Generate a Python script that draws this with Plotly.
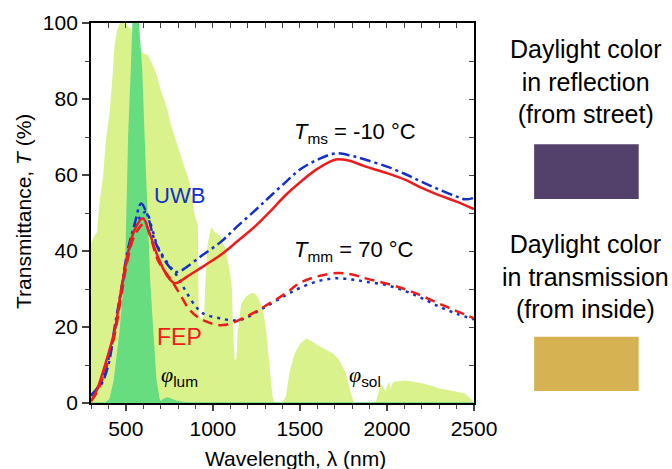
import plotly.graph_objects as go

# ---------------- data ----------------
sol_wl = [300, 310, 320, 335, 350, 370, 385, 400, 410, 425, 435, 450, 465, 480, 500, 515, 530, 550, 570, 588,
          600, 626, 645, 665, 685, 703, 720, 741, 760, 788, 810, 836, 850, 865, 880, 893, 905, 914, 918, 935,
          950, 955, 970, 991, 1010, 1040, 1070, 1096, 1110, 1115, 1125, 1136, 1141, 1150, 1162, 1190, 1227,
          1250, 1267, 1290, 1306, 1325, 1343, 1355, 1400, 1420, 1440, 1470, 1500, 1536, 1570, 1610, 1650,
          1690, 1725, 1764, 1792, 1811, 1935, 1954, 1965, 1973, 1985, 1992, 2005, 2011, 2021, 2030, 2040,
          2070, 2107, 2150, 2202, 2250, 2298, 2350, 2393, 2450, 2488, 2500]
sol_val = [42, 43, 44, 45, 53, 60, 69, 74, 78, 87, 94, 98, 100, 100, 100, 99, 98.5, 95, 93, 92.4,
           92, 91.6, 90, 88, 85, 82, 80, 76.7, 73, 68.8, 66, 62.2, 60.5, 58, 54, 50, 48, 47, 23, 22,
           23, 30, 42, 46.4, 45, 44, 41, 35, 30, 20, 11, 12, 18, 22, 26, 28, 29,
           28.5, 27, 24, 19, 10, 1.5, 0, 0, 2, 8, 13, 15.5, 17, 16.2, 15, 14,
           13, 11.3, 7.9, 2.6, 0, 0, 3, 5, 4.7, 3.5, 3, 5, 5.6, 3.9, 5, 5.6,
           5.8, 5.9, 5.6, 5.2, 4.6, 3.9, 3.4, 3, 2.5, 0.8, 0]

lum_wl = [300, 385, 410, 435, 468, 493, 504, 510, 518, 533, 542, 571, 590, 603, 619, 628, 636, 655, 672,
          690, 700, 720, 740, 770, 800, 850, 2500]
lum_val = [0, 0, 1, 6, 19, 32, 43, 53, 71, 88, 100, 100, 88, 71, 53, 43, 32, 18, 6,
           1, 0.3, 1, 1.3, 0.8, 0.3, 0, 0]

fep_cold_wl = [300, 330, 378, 436, 473, 512, 550, 598, 636, 684, 741, 780, 809, 850, 943, 1046, 1134, 1250,
               1325, 1420, 1496, 1600, 1706, 1780, 1878, 2000, 2107, 2200, 2298, 2400, 2500]
fep_cold = [0.5, 3, 9.6, 19.2, 29.7, 39.4, 45.5, 48.6, 44.7, 38.5, 33.2, 31.5, 31.9, 33.2, 35.9, 39, 42.3, 46.8,
            50.2, 54.8, 57.9, 61.6, 64.1, 63.8, 62.2, 60.5, 58.7, 56.6, 54.7, 53, 51]

uwb_cold_wl = [300, 330, 360, 400, 436, 474, 510, 550, 588, 620, 665, 722, 779, 809, 850, 943, 1046, 1134,
               1250, 1325, 1420, 1496, 1600, 1706, 1800, 1878, 2000, 2107, 2200, 2298, 2400, 2450, 2500]
uwb_cold = [2, 3.5, 5, 10, 20, 30, 40, 47, 52.5, 50, 42.9, 37.6, 34.6, 34.6, 35.8, 39, 42.4, 46.2,
            51, 54.2, 58.2, 61.3, 64, 65.7, 65, 64, 62.2, 60.2, 58.2, 56.2, 54.3, 53.6, 54]

fep_hot_wl = [300, 330, 378, 436, 473, 512, 550, 607, 640, 684, 760, 808, 867, 943, 1057, 1191, 1325, 1420,
              1496, 1600, 1720, 1800, 1878, 2000, 2107, 2200, 2298, 2400, 2500]
fep_hot = [0.5, 2.5, 8, 18, 28, 38, 44, 47.3, 44, 37.6, 32.4, 28.9, 24.5, 21.8, 20.5, 22.7, 26.2, 28.9,
           31.5, 33.3, 34.2, 33.8, 32.8, 31.4, 29.9, 28.2, 26.2, 24.2, 22.3]

uwb_hot_wl = [300, 330, 378, 436, 474, 512, 550, 590, 617, 650, 684, 741, 798, 846, 900, 943, 1038, 1153,
              1286, 1420, 1496, 1600, 1700, 1800, 1878, 2000, 2107, 2200, 2298, 2400, 2500]
uwb_hot = [2, 3.5, 8, 19, 29.5, 39, 46, 49.5, 50.3, 46, 41.1, 36.8, 33.2, 29.3, 25.5, 23.6, 22.3, 21.8,
           24.9, 28.4, 30.2, 32, 32.8, 32.5, 31.9, 31, 29.4, 27.6, 25.4, 23.5, 22]

x_ticks = [500, 1000, 1500, 2000, 2500]
y_ticks = [0, 20, 40, 60, 80, 100]

# ---------------- style ----------------
LIGHT = "rgb(218,242,140)"
DARK = "rgb(104,221,128)"
BLUE = "#1430c8"
RED = "#ee1c1c"
FONT = "Liberation Sans, Arial, sans-serif"

fig = go.Figure()
fig.add_trace(go.Scatter(x=sol_wl, y=sol_val, mode="lines", fill="tozeroy", fillcolor=LIGHT,
                         line=dict(width=0, color=LIGHT), showlegend=False, hoverinfo="skip"))
fig.add_trace(go.Scatter(x=lum_wl, y=lum_val, mode="lines", fill="tozeroy", fillcolor=DARK,
                         line=dict(width=1.5, color=DARK), showlegend=False, hoverinfo="skip"))

fig.add_trace(go.Scatter(x=uwb_hot_wl, y=uwb_hot, mode="lines", line=dict(color=BLUE, width=2.5, dash="3px,5px", shape="spline"), showlegend=False))
fig.add_trace(go.Scatter(x=fep_hot_wl, y=fep_hot, mode="lines", line=dict(color=RED, width=2.5, dash="10px,6px", shape="spline"), showlegend=False))
fig.add_trace(go.Scatter(x=uwb_cold_wl, y=uwb_cold, mode="lines", line=dict(color=BLUE, width=2.5, dash="11px,4px,3px,4px", shape="spline"), showlegend=False))
fig.add_trace(go.Scatter(x=fep_cold_wl, y=fep_cold, mode="lines", line=dict(color=RED, width=2.5, shape="spline"), showlegend=False))
# mirror axes (top/right) carrier
fig.add_trace(go.Scatter(x=[None], y=[None], xaxis="x2", yaxis="y2", showlegend=False, hoverinfo="skip"))

fig.update_layout(
    width=672, height=469,
    margin=dict(l=91, r=198, t=23, b=66),
    paper_bgcolor="white", plot_bgcolor="white",
    font=dict(family=FONT, size=21, color="black"),
    xaxis=dict(range=[300, 2500], tickmode="array", tickvals=x_ticks, ticks="outside", ticklen=6, tickwidth=1.5,
               minor=dict(dtick=100, tick0=0, ticks="outside", ticklen=4, tickwidth=1.2),
               showline=True, linewidth=1.8, linecolor="black", showgrid=False, zeroline=False,
               tickfont=dict(size=21)),
    yaxis=dict(range=[0, 100], tickmode="array", tickvals=y_ticks, ticks="outside", ticklen=7, tickwidth=1.5,
               minor=dict(dtick=10, tick0=0, ticks="outside", ticklen=4, tickwidth=1.2),
               showline=True, linewidth=1.8, linecolor="black", showgrid=False, zeroline=False,
               tickfont=dict(size=21)),
    xaxis2=dict(range=[300, 2500], overlaying="x", side="top", anchor="y2", dtick=100, tick0=0,
                ticks="inside", ticklen=5, tickwidth=1.2, showticklabels=False, showline=True,
                linewidth=1.8, linecolor="black", showgrid=False, zeroline=False),
    yaxis2=dict(range=[0, 100], overlaying="y", side="right", anchor="x2", dtick=10, tick0=0,
                ticks="inside", ticklen=5, tickwidth=1.2, showticklabels=False, showline=True,
                linewidth=1.8, linecolor="black", showgrid=False, zeroline=False),
)

ann = []
ann.append(dict(text="Wavelength, λ (nm)", xref="paper", yref="paper", x=0.533, y=-0.145,
                showarrow=False, font=dict(size=21), xanchor="center", yanchor="middle"))
ann.append(dict(text="Transmittance, <i>T</i> (%)", xref="paper", yref="paper", x=-0.178, y=0.505,
                showarrow=False, textangle=-90, font=dict(size=21), xanchor="center", yanchor="middle"))
ann.append(dict(text="UWB", x=809, y=54.7, showarrow=False, font=dict(size=22, color=BLUE)))
ann.append(dict(text="FEP", x=807, y=17.5, showarrow=False, font=dict(size=23, color=RED)))
ann.append(dict(text="<i>T</i><sub>ms</sub> = -10 °C", x=1456, y=71.1, xanchor="left", showarrow=False, font=dict(size=22)))
ann.append(dict(text="<i>T</i><sub>mm</sub> = 70 °C", x=1456, y=39.9, xanchor="left", showarrow=False, font=dict(size=22)))
ann.append(dict(text="<span style='font-family:Liberation Serif'><i>φ</i></span><sub>lum</sub>", x=689, y=7,
                xanchor="left", showarrow=False, font=dict(size=22)))
ann.append(dict(text="<span style='font-family:Liberation Serif'><i>φ</i></span><sub>sol</sub>", x=1771, y=7,
                xanchor="left", showarrow=False, font=dict(size=22)))
ann.append(dict(text="Daylight color<br>in reflection<br>(from street)", xref="paper", yref="paper",
                x=1.290, y=0.845, showarrow=False, font=dict(size=25), xanchor="center", yanchor="middle"))
ann.append(dict(text="Daylight color<br>in transmission<br>(from inside)", xref="paper", yref="paper",
                x=1.290, y=0.332, showarrow=False, font=dict(size=25), xanchor="center", yanchor="middle"))
fig.update_layout(annotations=ann)

fig.add_shape(type="rect", xref="paper", yref="paper", x0=1.157, x1=1.430, y0=0.5368, y1=0.6808,
              fillcolor="rgb(83,64,107)", line=dict(width=0))
fig.add_shape(type="rect", xref="paper", yref="paper", x0=1.157, x1=1.430, y0=0.0316, y1=0.1745,
              fillcolor="rgb(214,178,82)", line=dict(width=0))

fig.write_html("out.html", config={"displayModeBar": False},
               post_script="document.body.style.margin='0px';")
